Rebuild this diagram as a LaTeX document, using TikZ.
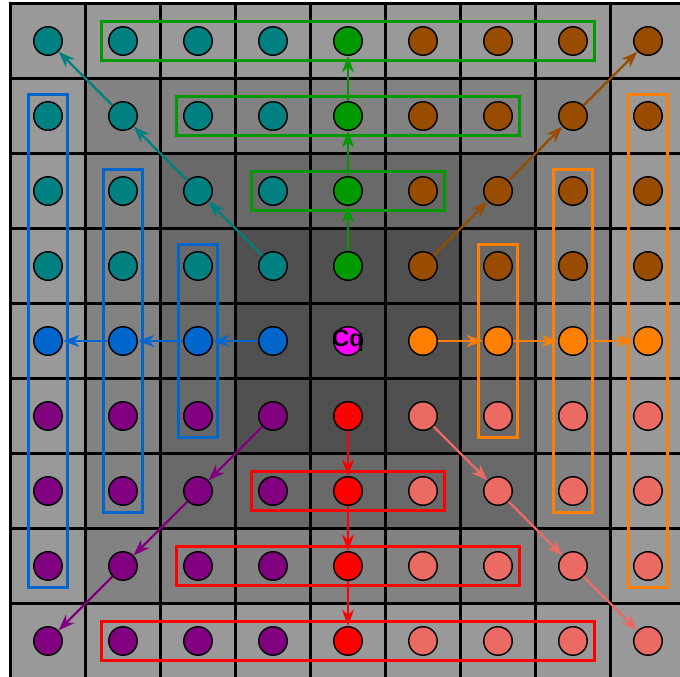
\documentclass[tikz,border=0pt]{standalone}
\usepackage{fontspec}
\setmainfont{Liberation Sans}
\usetikzlibrary{arrows.meta,fit}
\definecolor{gris0}{RGB}{80,80,80}
\definecolor{gris1}{RGB}{80,80,80}
\definecolor{gris2}{RGB}{105,105,105}
\definecolor{gris3}{RGB}{130,130,130}
\definecolor{gris4}{RGB}{153,153,153}
\definecolor{zona00}{RGB}{0,128,128}
\definecolor{zona01}{RGB}{0,153,0}
\definecolor{zona02}{RGB}{153,76,0}
\definecolor{zona10}{RGB}{0,102,204}
\definecolor{zona11}{RGB}{255,0,255}
\definecolor{zona12}{RGB}{255,128,0}
\definecolor{zona20}{RGB}{128,0,128}
\definecolor{zona21}{RGB}{255,0,0}
\definecolor{zona22}{RGB}{235,107,100}

\begin{document}
\begin{tikzpicture}[
  celda/.style={draw,line width=1.1pt,minimum size=1cm,inner sep=0pt},
  punto/.style={circle,draw,line width=0.55pt,minimum size=3.8mm,inner sep=0pt,font=\fontsize{9}{9}\selectfont\bfseries},
  flecha/.style={-{Stealth[length=2.2mm,width=1.6mm]},line width=0.85pt},
  marcoh/.style={draw,line width=1.1pt,inner xsep=0.9mm,inner ysep=0.6mm},
  marcov/.style={draw,line width=1.1pt,inner xsep=0.6mm,inner ysep=0.9mm}]
  \useasboundingbox (-0.64,0.547) rectangle (8.427,-8.48);
  \foreach \r in {0,...,8}
    \foreach \c in {0,...,8}{
      \pgfmathtruncatemacro\d{max(abs(\r-4),abs(\c-4))}
      \node[celda,fill=gris\d] (s-\r-\c) at (\c,-\r) {};
    }
  \foreach \r in {0,...,8}
    \foreach \c in {0,...,8}{
      \pgfmathtruncatemacro\zf{sign(\r-4)+1}
      \pgfmathtruncatemacro\zc{sign(\c-4)+1}
      \node[punto,fill=zona\zf\zc] (p-\r-\c) at (\c,-\r) {\ifnum\zf\zc=11 \makebox[0pt]{Cq}\fi};
    }
  \foreach \k in {2,3,4}{
    \pgfmathtruncatemacro\ri{4-\k}
    \pgfmathtruncatemacro\rs{4+\k}
    \pgfmathtruncatemacro\ia{5-\k}
    \pgfmathtruncatemacro\ib{3+\k}
    \node[marcoh,draw=zona01,fit=(p-\ri-\ia)(p-\ri-\ib)] (g-\k) {};
    \node[marcoh,draw=zona21,fit=(p-\rs-\ia)(p-\rs-\ib)] (r-\k) {};
    \node[marcov,draw=zona10,fit=(p-\ia-\ri)(p-\ib-\ri)] (b-\k) {};
    \node[marcov,draw=zona12,fit=(p-\ia-\rs)(p-\ib-\rs)] (o-\k) {};
  }
  \foreach \dr/\dc in {-1/-1,-1/0,-1/1,0/-1,0/1,1/-1,1/0,1/1}
    \foreach \k in {1,2,3}{
      \pgfmathtruncatemacro\ra{4+\dr*\k}
      \pgfmathtruncatemacro\ca{4+\dc*\k}
      \pgfmathtruncatemacro\rb{4+\dr*(\k+1)}
      \pgfmathtruncatemacro\cb{4+\dc*(\k+1)}
      \pgfmathtruncatemacro\zf{\dr+1}
      \pgfmathtruncatemacro\zc{\dc+1}
      \draw[flecha,color=zona\zf\zc] (p-\ra-\ca) -- (p-\rb-\cb);
    }
\end{tikzpicture}
\end{document}
